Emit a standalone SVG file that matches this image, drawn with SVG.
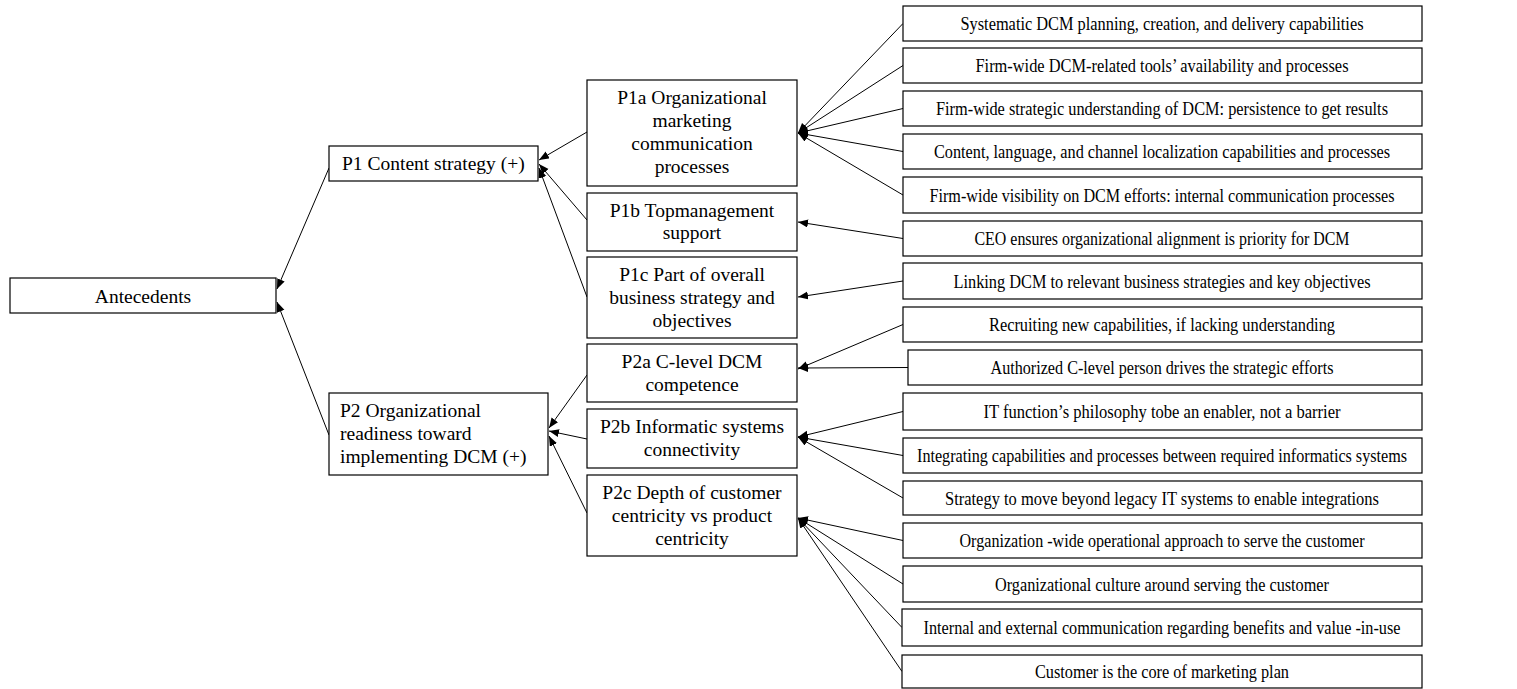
<svg xmlns="http://www.w3.org/2000/svg" width="1517" height="689" viewBox="0 0 1517 689">
  <style>
    .box { fill: #ffffff; stroke: #000000; stroke-width: 1.2; }
    .t { font-family: "Liberation Serif", "Times New Roman", serif; font-size: 19.5px; fill: #000000; }
    .c { text-anchor: middle; }
    .r { font-family: "Liberation Serif", "Times New Roman", serif; font-size: 19.5px; fill: #000000; text-anchor: middle; }
    .edge { fill: none; stroke: #000000; stroke-width: 1; }
  </style>
  <defs>
    <marker id="arrow" markerUnits="userSpaceOnUse" markerWidth="11" markerHeight="9" refX="10" refY="4" orient="auto">
      <path d="M0,0 L10,4 L0,8 z" fill="#000000"/>
    </marker>
  </defs>
  <rect width="1517" height="689" fill="#ffffff"/>

  <!-- connectors -->
  <g id="connectors" class="edge" marker-end="url(#arrow)">
    <path d="M329,168 L277,289"/>
    <path d="M329,435 L277,302"/>
    <path d="M587,132 L539,160"/>
    <path d="M587,220 L539,164"/>
    <path d="M587,297 L539,168"/>
    <path d="M587,375 L549,428"/>
    <path d="M587,439 L549,431"/>
    <path d="M587,513 L549,436"/>
    <path d="M903,23.5 L798,133"/>
    <path d="M903,65.5 L798,133"/>
    <path d="M903,108.5 L798,133"/>
    <path d="M903,151.5 L798,133"/>
    <path d="M903,195 L798,133"/>
    <path d="M903,238.5 L798,222"/>
    <path d="M903,281 L798,297"/>
    <path d="M903,324.5 L798,369"/>
    <path d="M908,367.5 L798,368"/>
    <path d="M903,411.5 L798,437"/>
    <path d="M903,455.5 L798,437"/>
    <path d="M903,498 L798,437"/>
    <path d="M903,540.5 L798,518"/>
    <path d="M903,584 L798,518"/>
    <path d="M902,627.5 L798,518"/>
    <path d="M902,671.5 L798,518"/>
  </g>

  <!-- root -->
  <g id="antecedents">
    <rect class="box" x="10" y="278" width="266" height="35"/>
    <text class="t c" x="143" y="303">Antecedents</text>
  </g>

  <!-- propositions -->
  <g id="p1">
    <rect class="box" x="329" y="146" width="209" height="35"/>
    <text class="t" x="342" y="170">P1 Content strategy (+)</text>
  </g>
  <g id="p2">
    <rect class="box" x="329" y="393" width="219" height="82"/>
    <text class="t" x="340" y="417">P2 Organizational</text>
    <text class="t" x="340" y="440">readiness toward</text>
    <text class="t" x="340" y="463">implementing DCM (+)</text>
  </g>

  <!-- sub-propositions -->
  <g id="p1a">
    <rect class="box" x="587" y="80" width="210" height="106"/>
    <text class="t c" x="692" y="104">P1a Organizational</text>
    <text class="t c" x="692" y="127">marketing</text>
    <text class="t c" x="692" y="150">communication</text>
    <text class="t c" x="692" y="173">processes</text>
  </g>
  <g id="p1b">
    <rect class="box" x="587" y="193" width="210" height="58"/>
    <text class="t c" x="692" y="216.5">P1b Topmanagement</text>
    <text class="t c" x="692" y="239">support</text>
  </g>
  <g id="p1c">
    <rect class="box" x="587" y="257" width="210" height="81"/>
    <text class="t c" x="692" y="280.5">P1c Part of overall</text>
    <text class="t c" x="692" y="303.5">business strategy and</text>
    <text class="t c" x="692" y="326.5">objectives</text>
  </g>
  <g id="p2a">
    <rect class="box" x="587" y="344" width="210" height="58"/>
    <text class="t c" x="692" y="368">P2a C-level DCM</text>
    <text class="t c" x="692" y="390.5">competence</text>
  </g>
  <g id="p2b">
    <rect class="box" x="587" y="409" width="210" height="59"/>
    <text class="t c" x="692" y="432.5">P2b Informatic systems</text>
    <text class="t c" x="692" y="455.5">connectivity</text>
  </g>
  <g id="p2c">
    <rect class="box" x="587" y="475" width="210" height="81"/>
    <text class="t c" x="692" y="498.5">P2c Depth of customer</text>
    <text class="t c" x="692" y="522">centricity vs product</text>
    <text class="t c" x="692" y="545">centricity</text>
  </g>

  <!-- indicators -->
  <g id="i1">
    <rect class="box" x="903" y="6" width="519" height="35"/>
    <text class="r" x="1162" y="30" textLength="403" lengthAdjust="spacingAndGlyphs">Systematic DCM planning, creation, and delivery capabilities</text>
  </g>
  <g id="i2">
    <rect class="box" x="903" y="48" width="519" height="35"/>
    <text class="r" x="1162" y="72" textLength="373" lengthAdjust="spacingAndGlyphs">Firm-wide DCM-related tools’ availability and processes</text>
  </g>
  <g id="i3">
    <rect class="box" x="903" y="91" width="519" height="35"/>
    <text class="r" x="1162" y="115" textLength="452" lengthAdjust="spacingAndGlyphs">Firm-wide strategic understanding of DCM: persistence to get results</text>
  </g>
  <g id="i4">
    <rect class="box" x="903" y="134" width="519" height="35"/>
    <text class="r" x="1162" y="158" textLength="456" lengthAdjust="spacingAndGlyphs">Content, language, and channel localization capabilities and processes</text>
  </g>
  <g id="i5">
    <rect class="box" x="903" y="177" width="519" height="36"/>
    <text class="r" x="1162" y="201.5" textLength="465" lengthAdjust="spacingAndGlyphs">Firm-wide visibility on DCM efforts: internal communication processes</text>
  </g>
  <g id="i6">
    <rect class="box" x="903" y="221" width="519" height="35"/>
    <text class="r" x="1162" y="245" textLength="375" lengthAdjust="spacingAndGlyphs">CEO ensures organizational alignment is priority for DCM</text>
  </g>
  <g id="i7">
    <rect class="box" x="903" y="263" width="519" height="36"/>
    <text class="r" x="1162" y="287.5" textLength="417" lengthAdjust="spacingAndGlyphs">Linking DCM to relevant business strategies and key objectives</text>
  </g>
  <g id="i8">
    <rect class="box" x="903" y="307" width="519" height="35"/>
    <text class="r" x="1162" y="331" textLength="346" lengthAdjust="spacingAndGlyphs">Recruiting new capabilities, if lacking understanding</text>
  </g>
  <g id="i9">
    <rect class="box" x="908" y="350" width="514" height="35"/>
    <text class="r" x="1162" y="374" textLength="343" lengthAdjust="spacingAndGlyphs">Authorized C-level person drives the strategic efforts</text>
  </g>
  <g id="i10">
    <rect class="box" x="903" y="393" width="519" height="37"/>
    <text class="r" x="1162" y="418" textLength="357" lengthAdjust="spacingAndGlyphs">IT function’s philosophy tobe an enabler, not a barrier</text>
  </g>
  <g id="i11">
    <rect class="box" x="903" y="438" width="519" height="35"/>
    <text class="r" x="1162" y="462" textLength="490" lengthAdjust="spacingAndGlyphs">Integrating capabilities and processes between required informatics systems</text>
  </g>
  <g id="i12">
    <rect class="box" x="903" y="481" width="519" height="34"/>
    <text class="r" x="1162" y="504.5" textLength="434" lengthAdjust="spacingAndGlyphs">Strategy to move beyond legacy IT systems to enable integrations</text>
  </g>
  <g id="i13">
    <rect class="box" x="903" y="523" width="519" height="35"/>
    <text class="r" x="1162" y="547" textLength="405" lengthAdjust="spacingAndGlyphs">Organization -wide operational approach to serve the customer</text>
  </g>
  <g id="i14">
    <rect class="box" x="903" y="566" width="519" height="36"/>
    <text class="r" x="1162" y="590.5" textLength="334" lengthAdjust="spacingAndGlyphs">Organizational culture around serving the customer</text>
  </g>
  <g id="i15">
    <rect class="box" x="902" y="609" width="520" height="37"/>
    <text class="r" x="1162" y="634" textLength="477" lengthAdjust="spacingAndGlyphs">Internal and external communication regarding benefits and value -in-use</text>
  </g>
  <g id="i16">
    <rect class="box" x="902" y="655" width="520" height="33"/>
    <text class="r" x="1162" y="678" textLength="254" lengthAdjust="spacingAndGlyphs">Customer is the core of marketing plan</text>
  </g>
</svg>
